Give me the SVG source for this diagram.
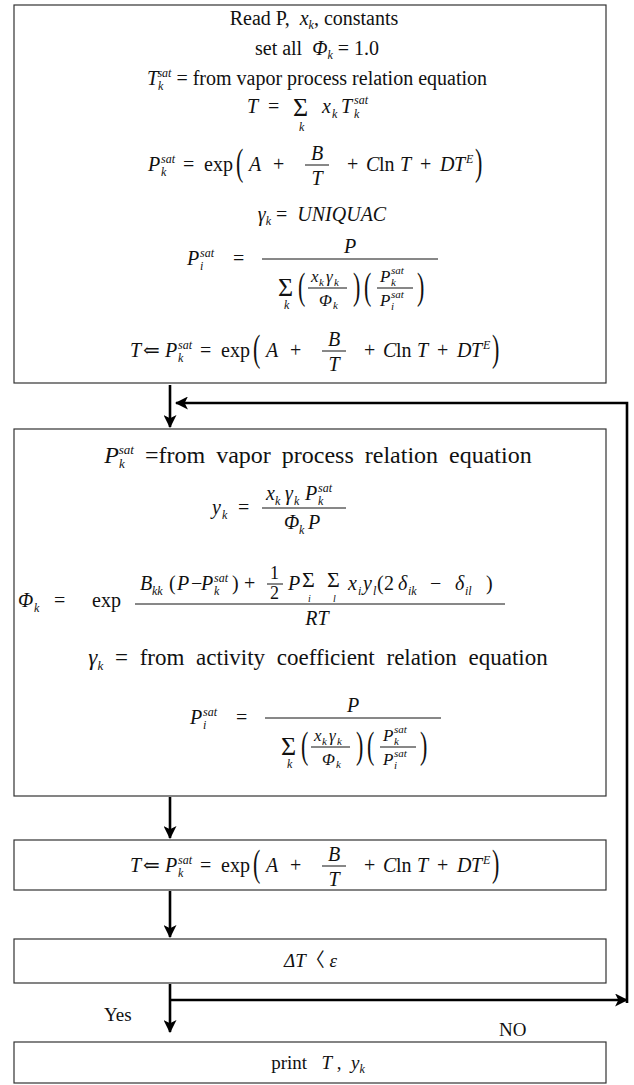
<svg xmlns="http://www.w3.org/2000/svg" width="634" height="1085" viewBox="0 0 634 1085">
<style>
.t{font-family:"Liberation Serif","DejaVu Serif","Noto Sans CJK KR",serif;fill:#111}
.i{font-style:italic}
.s{font-size:12px}
.box{fill:#fff;stroke:#333;stroke-width:1.2}
.fl{stroke:#111;stroke-width:1}
.con{fill:none;stroke:#000;stroke-width:2.6}
</style>
<defs>
<marker id="ah" viewBox="0 0 12 12" refX="11" refY="6" markerWidth="13" markerHeight="13" markerUnits="userSpaceOnUse" orient="auto"><path d="M0,0 L12,6 L0,12 L3,6 z" fill="#000"/></marker>
<g id="eqP" class="t" font-size="20">
<text x="0" y="0" class="i">P</text>
<text x="13" y="5" class="i s">k</text>
<text x="13" y="-8" class="i s">sat</text>
<text x="35" y="0">=</text>
<text x="56" y="0">exp</text>
<text transform="translate(88,-6) scale(1.1,1.9)" y="5">(</text>
<text x="101" y="0" class="i">A</text>
<text x="125" y="0">+</text>
<text x="169" y="-11" class="i" text-anchor="middle">B</text>
<line class="fl" x1="157" y1="-6" x2="181" y2="-6"/>
<text x="169" y="14" class="i" text-anchor="middle">T</text>
<text x="199" y="0">+</text>
<text x="218" y="0" class="i">C</text>
<text x="231" y="0">ln</text>
<text x="252" y="0" class="i">T</text>
<text x="272" y="0">+</text>
<text x="292" y="0" class="i">D</text>
<text x="306" y="0" class="i">T</text>
<text x="318" y="-8" class="i s">E</text>
<text transform="translate(327,-6) scale(1.1,1.9)" y="5">)</text>
</g>
<g id="eqT" class="t" font-size="20">
<text x="0" y="0" class="i">T</text>
<text x="13" y="0">⇐</text>
<use href="#eqP" x="35" y="0"/>
</g>
<g id="eqF" class="t" font-size="20">
<text x="0" y="0" class="i">P</text>
<text x="13" y="5" class="i s">i</text>
<text x="13" y="-8" class="i s">sat</text>
<text x="46" y="0">=</text>
<text x="163" y="-12" class="i" text-anchor="middle">P</text>
<line class="fl" x1="75" y1="-6" x2="251" y2="-6"/>
<text x="91" y="31" font-size="26">Σ</text>
<text x="97" y="44" class="i s">k</text>
<text transform="translate(111,24) scale(1.1,1.9)" y="5">(</text>
<g font-size="17">
<text x="124" y="17" class="i">x</text>
<text x="132" y="21" class="i" font-size="11">k</text>
<text x="139" y="17" class="i">γ</text>
<text x="147" y="21" class="i" font-size="11">k</text>
<line class="fl" x1="121" y1="23" x2="160" y2="23"/>
<text x="132" y="41" class="i">Φ</text>
<text x="146" y="44" class="i" font-size="11">k</text>
<text x="193" y="17" class="i">P</text>
<text x="204" y="21" class="i" font-size="11">k</text>
<text x="204" y="9" class="i" font-size="11">sat</text>
<line class="fl" x1="190" y1="23" x2="226" y2="23"/>
<text x="193" y="41" class="i">P</text>
<text x="204" y="45" class="i" font-size="11">i</text>
<text x="204" y="33" class="i" font-size="11">sat</text>
</g>
<text transform="translate(166,24) scale(1.1,1.9)" y="5">)</text>
<text transform="translate(177,24) scale(1.1,1.9)" y="5">(</text>
<text transform="translate(230,24) scale(1.1,1.9)" y="5">)</text>
</g>
</defs>

<g id="box1">
<rect class="box" x="14" y="5" width="592" height="378"/>
<text class="t" font-size="20" x="314" y="25" text-anchor="middle" xml:space="preserve">Read P,  <tspan class="i">x</tspan><tspan class="i s" dy="4">k</tspan><tspan dy="-4">, constants</tspan></text>
<text class="t" font-size="20" x="317" y="55" text-anchor="middle" xml:space="preserve">set all  <tspan class="i">Φ</tspan><tspan class="i s" dy="4">k</tspan><tspan dy="-4"> = 1.0</tspan></text>
<text class="t" font-size="20" x="317" y="85" text-anchor="middle"><tspan class="i">T</tspan><tspan class="i s" dy="5">k</tspan><tspan class="i s" dx="-6" dy="-13">sat</tspan><tspan dy="8"> = from vapor process relation equation</tspan></text>
<g class="t" font-size="20">
<text x="247" y="113" class="i">T</text>
<text x="268" y="113">=</text>
<text x="293" y="116" font-size="26">Σ</text>
<text x="299" y="131" class="i s">k</text>
<text x="322" y="113" class="i">x</text>
<text x="332" y="118" class="i s">k</text>
<text x="341" y="113" class="i">T</text>
<text x="354" y="118" class="i s">k</text>
<text x="354" y="104" class="i s">sat</text>
</g>
<use href="#eqP" x="148" y="171"/>
<text class="t" font-size="20" x="322" y="221" text-anchor="middle" xml:space="preserve"><tspan class="i">γ</tspan><tspan class="i s" dy="4">k</tspan><tspan dy="-4"> =  </tspan><tspan class="i">UNIQUAC</tspan></text>
<use href="#eqF" x="187" y="265"/>
<use href="#eqT" x="130" y="357"/>
</g>

<g id="box2">
<rect class="box" x="14" y="429" width="592" height="367"/>
<text class="t" font-size="24" x="318" y="463" text-anchor="middle" word-spacing="5"><tspan class="i">P</tspan><tspan class="i" font-size="13" dy="5">k</tspan><tspan class="i" font-size="13" dx="-6" dy="-14">sat</tspan><tspan dy="9"> =from vapor process relation equation</tspan></text>
<g class="t" font-size="20">
<text x="212" y="514" class="i">y</text>
<text x="222" y="519" class="i s">k</text>
<text x="238" y="514">=</text>
<text x="266" y="500" class="i">x</text>
<text x="275" y="505" class="i s">k</text>
<text x="285" y="500" class="i">γ</text>
<text x="294" y="505" class="i s">k</text>
<text x="305" y="500" class="i">P</text>
<text x="318" y="505" class="i s">k</text>
<text x="318" y="492" class="i s">sat</text>
<line class="fl" x1="262" y1="508" x2="346" y2="508"/>
<text x="284" y="529" class="i">Φ</text>
<text x="299" y="534" class="i s">k</text>
<text x="308" y="529" class="i">P</text>
</g>
<g class="t" font-size="20">
<text x="18" y="607" class="i">Φ</text>
<text x="34" y="612" class="i s">k</text>
<text x="54" y="607">=</text>
<text x="92" y="607">exp</text>
<text x="140" y="590" class="i">B</text>
<text x="152" y="595" class="i s">kk</text>
<text x="169" y="590">(</text>
<text x="177" y="590" class="i">P</text>
<text x="191" y="590">−</text>
<text x="201" y="590" class="i">P</text>
<text x="214" y="595" class="i s">k</text>
<text x="214" y="582" class="i s">sat</text>
<text x="232" y="590">)</text>
<text x="244" y="590">+</text>
<text x="270" y="579" font-size="18">1</text>
<line class="fl" x1="267" y1="584" x2="283" y2="584"/>
<text x="270" y="599" font-size="18">2</text>
<text x="288" y="590" class="i">P</text>
<text x="302" y="587" font-size="22">Σ</text>
<text x="308" y="602" class="i" font-size="10">i</text>
<text x="327" y="587" font-size="22">Σ</text>
<text x="333" y="602" class="i" font-size="10">l</text>
<text x="348" y="590" class="i">x</text>
<text x="358" y="595" class="i s">i</text>
<text x="363" y="590" class="i">y</text>
<text x="373" y="595" class="i s">l</text>
<text x="377" y="590">(</text>
<text x="384" y="590">2</text>
<text x="398" y="590" class="i">δ</text>
<text x="408" y="595" class="i s">ik</text>
<text x="430" y="590">−</text>
<text x="455" y="590" class="i">δ</text>
<text x="465" y="595" class="i s">il</text>
<text x="486" y="590">)</text>
<line class="fl" x1="135" y1="604" x2="505" y2="604"/>
<text x="317" y="625" class="i" text-anchor="middle">RT</text>
</g>
<text class="t" font-size="23" x="318" y="665" text-anchor="middle" word-spacing="6"><tspan class="i">γ</tspan><tspan class="i" font-size="13" dy="5">k</tspan><tspan dy="-5"> = from activity coefficient relation equation</tspan></text>
<use href="#eqF" x="190" y="724"/>
</g>

<g id="box3">
<rect class="box" x="14" y="840" width="592" height="50"/>
<use href="#eqT" x="130" y="872"/>
</g>

<g id="box4">
<rect class="box" x="14" y="939" width="592" height="44"/>
<text class="t" font-size="19" x="284" y="967" xml:space="preserve"><tspan class="i">ΔT</tspan>〈 <tspan class="i">ε</tspan></text>
</g>

<g id="box5">
<rect class="box" x="14" y="1042" width="592" height="41"/>
<text class="t" font-size="19" x="318" y="1069" text-anchor="middle" xml:space="preserve">print   <tspan class="i">T</tspan> ,  <tspan class="i">y</tspan><tspan class="i s" dy="4">k</tspan></text>
</g>

<g id="labels" class="t" font-size="19">
<text x="104" y="1021">Yes</text>
<text x="499" y="1036">NO</text>
</g>

<g id="connectors">
<path class="con" d="M170,385 V427" marker-end="url(#ah)"/>
<path class="con" d="M170,797 V838" marker-end="url(#ah)"/>
<path class="con" d="M170,891 V937" marker-end="url(#ah)"/>
<path class="con" d="M170,984 V1032" marker-end="url(#ah)"/>
<path class="con" d="M170,1000 H627" marker-end="url(#ah)"/>
<path class="con" d="M627,1003 V403 H176" marker-end="url(#ah)"/>
</g>
</svg>
